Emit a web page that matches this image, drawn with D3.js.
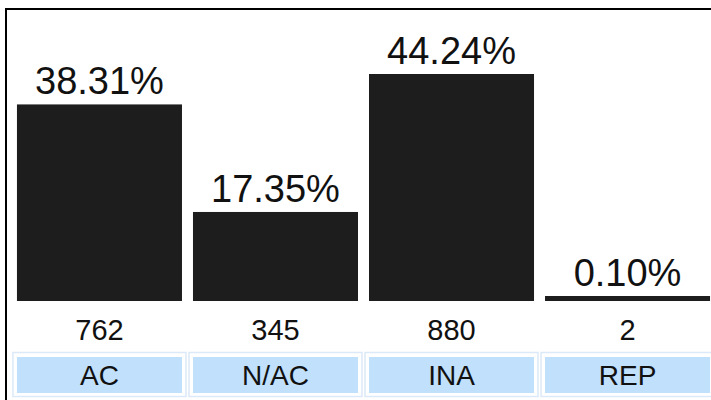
<!DOCTYPE html>
<html>
<head>
<meta charset="utf-8">
<script src="https://cdn.jsdelivr.net/npm/d3@7"></script>
<style>
  body { margin: 0; background: #fff; }
  text { font-family: "Liberation Sans", Arial, sans-serif; }
</style>
</head>
<body>
<div id="chart"></div>
<script>
// data
const categories = ["AC", "N/AC", "INA", "REP"];
const percents = [38.31, 17.35, 44.24, 0.10];
const counts = [762, 345, 880, 2];

const width = 711;
const height = 400;

const svg = d3.select("#chart")
  .append("svg")
  .attr("width", width)
  .attr("height", height);

// frame (only top/left visible in the picture)
svg.append("rect")
  .attr("x", 6)
  .attr("y", 9)
  .attr("width", 740)
  .attr("height", 420)
  .attr("fill", "none")
  .attr("stroke", "#000")
  .attr("stroke-width", 2);

const x = d3.scaleBand()
  .domain(categories)
  .range([11.5, 715.5])
  .paddingInner(0.0625)
  .paddingOuter(0.031);

const baseY = 301;
const y = d3.scaleLinear()
  .domain([0, d3.max(percents)])
  .range([baseY, 74]);

const minBar = 5;
const barTop = d => Math.min(y(d), baseY - minBar);

// bars
svg.selectAll(".bar")
  .data(percents)
  .enter()
  .append("rect")
  .attr("class", "bar")
  .attr("x", (d, i) => x(categories[i]))
  .attr("y", d => barTop(d))
  .attr("width", x.bandwidth())
  .attr("height", d => baseY - barTop(d))
  .attr("fill", "#1d1d1d");

// percentage labels
svg.selectAll(".pct")
  .data(percents)
  .enter()
  .append("text")
  .attr("class", "pct")
  .attr("x", (d, i) => x(categories[i]) + x.bandwidth() / 2)
  .attr("y", d => barTop(d) - 10)
  .attr("text-anchor", "middle")
  .attr("font-size", 38)
  .attr("fill", "#111")
  .text(d => d.toFixed(2) + "%");

// counts
svg.selectAll(".cnt")
  .data(counts)
  .enter()
  .append("text")
  .attr("class", "cnt")
  .attr("x", (d, i) => x(categories[i]) + x.bandwidth() / 2)
  .attr("y", 340)
  .attr("text-anchor", "middle")
  .attr("font-size", 29)
  .attr("fill", "#111")
  .text(d => d);

// category cells
const step = x.step();
const cells = svg.selectAll(".cell")
  .data(categories)
  .enter()
  .append("g")
  .attr("class", "cell");

cells.append("rect")
  .attr("x", d => x(d) - 4)
  .attr("y", 352.5)
  .attr("width", x.bandwidth() + 8)
  .attr("height", 44)
  .attr("fill", "none")
  .attr("stroke", "#dce9f8")
  .attr("stroke-width", 1.5);

cells.append("rect")
  .attr("x", d => x(d))
  .attr("y", 357)
  .attr("width", x.bandwidth())
  .attr("height", 36)
  .attr("fill", "#c0e0fc");

cells.append("text")
  .attr("x", d => x(d) + x.bandwidth() / 2)
  .attr("y", 385)
  .attr("text-anchor", "middle")
  .attr("font-size", 28)
  .attr("fill", "#111")
  .text(d => d);
</script>
</body>
</html>
